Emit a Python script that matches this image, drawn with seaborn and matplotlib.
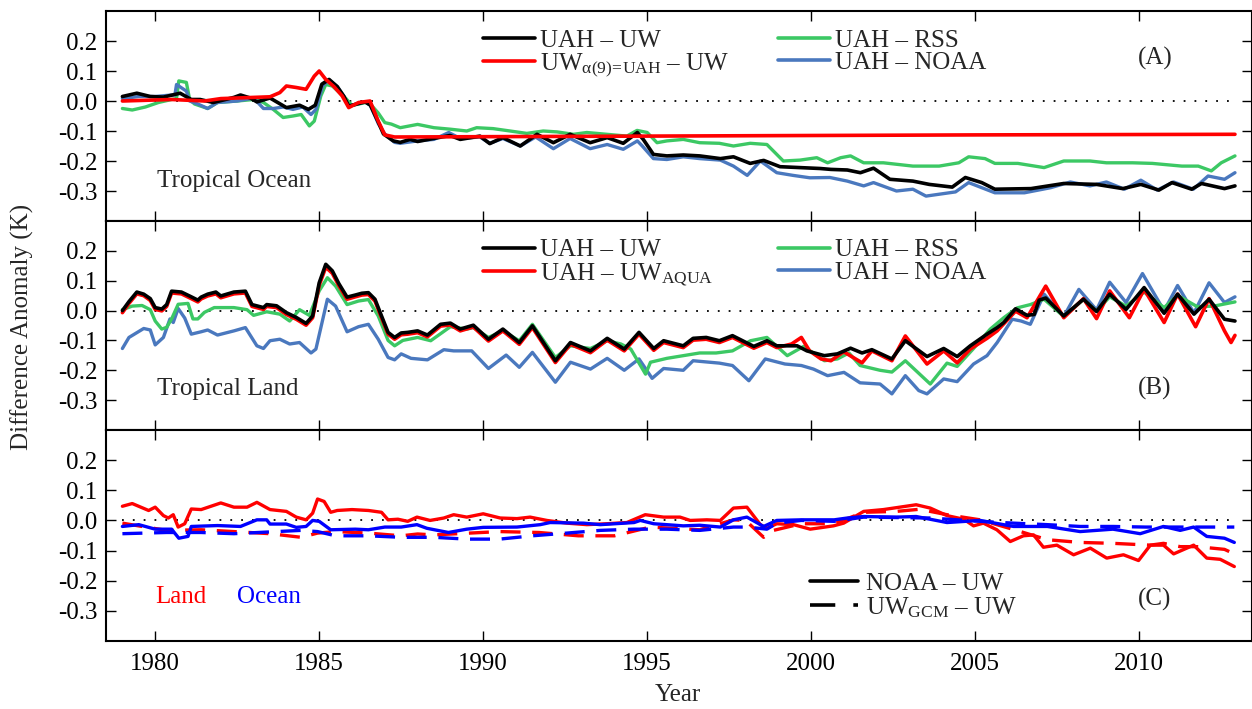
import matplotlib
matplotlib.use("Agg")
import matplotlib.pyplot as plt
from matplotlib.lines import Line2D
from matplotlib.ticker import FormatStrFormatter, FixedLocator
import seaborn as sns

# ---------------- Panel A: Tropical Ocean ----------------
a_uw_t = [1979.0, 1979.44, 1979.85, 1980.25, 1980.76, 1981.1, 1981.37, 1981.77, 1982.4, 1982.6, 1982.9,
          1983.1, 1983.5, 1984.0, 1984.4, 1984.67, 1984.88, 1985.08, 1985.3, 1985.55, 1985.75, 1985.9,
          1986.4, 1986.56, 1986.8, 1986.96, 1987.26, 1987.47, 1987.77, 1988.0, 1988.48, 1988.99, 1989.3,
          1989.9, 1990.2, 1990.6, 1991.13, 1991.64, 1992.14, 1992.65, 1993.26, 1993.78, 1994.27, 1994.7,
          1994.88, 1995.19, 1995.6, 1996.1, 1996.6, 1997.23, 1997.63, 1998.14, 1998.55, 1999.05, 1999.66,
          2000.27, 2000.6, 2001.1, 2001.5, 2001.9, 2002.4, 2003.1, 2003.6, 2004.3, 2004.7, 2005.2, 2005.6,
          2006.7, 2007.7, 2008.7, 2009.5, 2010.05, 2010.6, 2011.0, 2011.6, 2011.9, 2012.6, 2012.92]
a_uw_v = [0.015, 0.026, 0.015, 0.013, 0.026, 0.005, 0.005, -0.005, 0.012, 0.02, 0.01,
          -0.003, 0.01, -0.022, -0.014, -0.028, -0.014, 0.056, 0.072, 0.048, 0.016, -0.017,
          -0.003, -0.014, -0.07, -0.11, -0.133, -0.138, -0.128, -0.135, -0.125, -0.115, -0.128,
          -0.117, -0.142, -0.122, -0.15, -0.111, -0.139, -0.111, -0.139, -0.122, -0.141, -0.105,
          -0.128, -0.178, -0.183, -0.18, -0.183, -0.192, -0.186, -0.208, -0.198, -0.219, -0.222,
          -0.225, -0.228, -0.23, -0.239, -0.224, -0.261, -0.267, -0.278, -0.287, -0.255, -0.272, -0.294,
          -0.292, -0.275, -0.278, -0.292, -0.278, -0.297, -0.272, -0.294, -0.275, -0.292, -0.283]

a_alpha_t = [1979.0, 1980.5, 1981.5, 1982.0, 1983.0, 1983.5, 1983.8, 1984.0, 1984.3, 1984.6, 1984.85,
             1985.0, 1985.2, 1985.45, 1985.7, 1985.9, 1986.2, 1986.55, 1986.8, 1987.0, 1987.3, 1995.0,
             2005.0, 2012.92]
a_alpha_v = [0.0, 0.005, 0.0, 0.008, 0.012, 0.014, 0.028, 0.05, 0.045, 0.039, 0.083,
             0.1, 0.072, 0.048, 0.017, -0.022, -0.005, 0.0, -0.067, -0.113, -0.12, -0.117,
             -0.113, -0.111]

a_rss_t = [1979.0, 1979.3, 1979.7, 1980.1, 1980.5, 1980.65, 1980.72, 1980.95, 1981.05, 1981.2, 1981.6,
           1981.9, 1982.5, 1983.0, 1983.3, 1983.6, 1983.9, 1984.2, 1984.45, 1984.7, 1984.85, 1985.05,
           1985.2, 1985.4, 1985.8, 1986.0, 1986.5, 1986.8, 1987.0, 1987.2, 1987.47, 1988.0, 1988.5,
           1989.0, 1989.5, 1989.8, 1990.3, 1990.82, 1991.33, 1991.83, 1992.25, 1992.75, 1993.16, 1993.77,
           1994.38, 1994.69, 1995.0, 1995.3, 1995.6, 1996.1, 1996.6, 1997.2, 1997.63, 1998.14, 1998.65,
           1999.15, 1999.66, 2000.17, 2000.5, 2000.9, 2001.2, 2001.6, 2002.2, 2003.1, 2003.9, 2004.5,
           2004.8, 2005.3, 2005.6, 2006.3, 2007.1, 2007.7, 2008.5, 2009.0, 2009.8, 2010.4, 2011.3,
           2011.8, 2012.2, 2012.5, 2012.92]
a_rss_v = [-0.025, -0.03, -0.02, -0.005, 0.005, 0.008, 0.067, 0.062, 0.005, -0.01, -0.025,
           -0.005, 0.0, 0.005, -0.005, -0.028, -0.055, -0.05, -0.045, -0.083, -0.067, 0.017,
           0.055, 0.05, 0.01, -0.015, -0.003, -0.04, -0.072, -0.077, -0.089, -0.078, -0.089,
           -0.094, -0.1, -0.089, -0.092, -0.1, -0.108, -0.1, -0.103, -0.111, -0.105, -0.111,
           -0.117, -0.098, -0.105, -0.139, -0.133, -0.128, -0.139, -0.141, -0.15, -0.141, -0.145,
           -0.2, -0.197, -0.189, -0.206, -0.189, -0.183, -0.206, -0.206, -0.217, -0.217, -0.206,
           -0.186, -0.192, -0.208, -0.208, -0.222, -0.2, -0.2, -0.206, -0.206, -0.208, -0.217,
           -0.217, -0.233, -0.206, -0.183]

a_noaa_t = [1979.0, 1979.5, 1980.0, 1980.5, 1980.6, 1980.65, 1980.95, 1981.05, 1981.3, 1981.6, 1981.9,
            1982.5, 1983.0, 1983.3, 1983.6, 1983.9, 1984.2, 1984.5, 1984.75, 1984.9, 1985.1, 1985.3,
            1985.55, 1985.75, 1985.9, 1986.4, 1986.56, 1986.8, 1987.0, 1987.3, 1987.47, 1988.0, 1988.5,
            1988.95, 1989.3, 1989.9, 1990.2, 1990.6, 1991.13, 1991.6, 1992.14, 1992.65, 1993.26, 1993.78,
            1994.27, 1994.7, 1994.85, 1995.19, 1995.6, 1996.1, 1996.6, 1997.23, 1997.63, 1998.05, 1998.45,
            1998.95, 1999.45, 1999.96, 2000.57, 2001.1, 2001.6, 2001.9, 2002.6, 2003.1, 2003.5, 2004.4,
            2004.8, 2005.6, 2006.5, 2007.3, 2007.9, 2008.5, 2009.0, 2009.55, 2010.05, 2010.55, 2011.05,
            2011.65, 2012.1, 2012.6, 2012.92]
a_noaa_v = [0.008, 0.015, 0.015, 0.02, 0.02, 0.055, 0.033, 0.0, -0.01, -0.025, -0.005,
            0.0, 0.01, -0.025, -0.025, -0.02, -0.028, -0.02, -0.045, -0.028, 0.05, 0.07,
            0.048, 0.016, -0.017, -0.003, -0.014, -0.075, -0.11, -0.138, -0.141, -0.133, -0.128,
            -0.105, -0.125, -0.12, -0.141, -0.125, -0.15, -0.12, -0.159, -0.125, -0.159, -0.145,
            -0.161, -0.133, -0.15, -0.192, -0.195, -0.186, -0.192, -0.197, -0.217, -0.248, -0.2,
            -0.239, -0.248, -0.256, -0.255, -0.267, -0.283, -0.272, -0.3, -0.294, -0.317, -0.303,
            -0.272, -0.306, -0.306, -0.289, -0.27, -0.283, -0.27, -0.294, -0.264, -0.297, -0.27,
            -0.294, -0.25, -0.261, -0.239]

# ---------------- Panel B: Tropical Land ----------------
b_uw_t = [1979.0, 1979.2, 1979.44, 1979.65, 1979.85, 1980.0, 1980.2, 1980.35, 1980.5, 1980.8, 1981.1,
          1981.3, 1981.4, 1981.6, 1981.85, 1982.0, 1982.4, 1982.75, 1982.95, 1983.3, 1983.4, 1983.7,
          1984.0, 1984.3, 1984.6, 1984.8, 1985.0, 1985.2, 1985.4, 1985.6, 1985.85, 1986.1, 1986.3,
          1986.5, 1986.7, 1986.9, 1987.1, 1987.3, 1987.5, 1987.7, 1988.0, 1988.3, 1988.7, 1989.0,
          1989.3, 1989.7, 1990.16, 1990.6, 1991.1, 1991.5, 1992.2, 1992.66, 1993.27, 1993.78, 1994.3,
          1994.75, 1995.2, 1995.5, 1996.1, 1996.4, 1996.8, 1997.2, 1997.6, 1998.25, 1998.65, 1998.95,
          1999.57, 1999.87, 2000.4, 2000.8, 2001.2, 2001.55, 2001.85, 2002.46, 2002.87, 2003.53, 2004.04,
          2004.45, 2004.85, 2005.36, 2005.67, 2005.87, 2006.23, 2006.58, 2006.8, 2006.95, 2007.15, 2007.7,
          2008.3, 2008.7, 2009.1, 2009.6, 2010.15, 2010.76, 2011.17, 2011.67, 2012.13, 2012.6, 2012.92]
b_uw_v = [0.0, 0.03, 0.062, 0.055, 0.04, 0.01, 0.005, 0.02, 0.065, 0.062, 0.046,
          0.035, 0.045, 0.055, 0.062, 0.049, 0.062, 0.065, 0.02, 0.01, 0.02, 0.016,
          -0.007, -0.023, -0.043, -0.018, 0.093, 0.155, 0.133, 0.09, 0.045, 0.052, 0.058,
          0.06, 0.038, -0.018, -0.073, -0.09, -0.075, -0.073, -0.068, -0.082, -0.046, -0.042,
          -0.062, -0.049, -0.096, -0.062, -0.107, -0.051, -0.168, -0.107, -0.135, -0.093, -0.129,
          -0.073, -0.127, -0.101, -0.118, -0.093, -0.09, -0.101, -0.084, -0.12, -0.101, -0.118,
          -0.118, -0.135, -0.151, -0.145, -0.126, -0.142, -0.131, -0.162, -0.101, -0.154, -0.127,
          -0.154, -0.118, -0.079, -0.057, -0.04, 0.006, -0.016, -0.013, 0.035, 0.042, -0.018,
          0.038, -0.003, 0.055, 0.004, 0.077, -0.009, 0.055, -0.012, 0.038, -0.029, -0.035]

b_aqua_t = [1979.0, 1979.2, 1979.44, 1979.65, 1979.85, 1980.0, 1980.2, 1980.35, 1980.5, 1980.8, 1981.1,
            1981.3, 1981.4, 1981.6, 1981.85, 1982.0, 1982.4, 1982.75, 1982.95, 1983.3, 1983.4, 1983.7,
            1984.0, 1984.3, 1984.6, 1984.8, 1985.0, 1985.2, 1985.4, 1985.6, 1985.85, 1986.1, 1986.3,
            1986.5, 1986.7, 1986.9, 1987.1, 1987.3, 1987.5, 1987.7, 1988.0, 1988.3, 1988.7, 1989.0,
            1989.3, 1989.7, 1990.16, 1990.6, 1991.1, 1991.5, 1992.2, 1992.66, 1993.27, 1993.78, 1994.3,
            1994.75, 1995.2, 1995.5, 1996.1, 1996.4, 1996.8, 1997.2, 1997.6, 1998.25, 1998.65, 1998.95,
            1999.4, 1999.7, 1999.95, 2000.3, 2000.6, 2000.99, 2001.55, 2001.85, 2002.46, 2002.87, 2003.53,
            2004.04, 2004.45, 2004.85, 2005.36, 2005.67, 2006.23, 2006.58, 2007.15, 2007.7, 2008.3, 2008.7,
            2009.1, 2009.7, 2010.15, 2010.76, 2011.17, 2011.72, 2012.13, 2012.6, 2012.8, 2012.92]
b_aqua_v = [-0.007, 0.024, 0.056, 0.05, 0.034, 0.004, -0.001, 0.014, 0.059, 0.056, 0.04,
            0.029, 0.039, 0.049, 0.056, 0.043, 0.056, 0.059, 0.014, 0.004, 0.014, 0.01,
            -0.013, -0.029, -0.049, -0.024, 0.085, 0.145, 0.125, 0.083, 0.038, 0.046, 0.052,
            0.054, 0.032, -0.024, -0.079, -0.096, -0.081, -0.079, -0.074, -0.088, -0.052, -0.048,
            -0.068, -0.055, -0.102, -0.068, -0.113, -0.057, -0.174, -0.113, -0.141, -0.099, -0.135,
            -0.079, -0.133, -0.107, -0.124, -0.099, -0.096, -0.107, -0.09, -0.126, -0.107, -0.124,
            -0.112, -0.09, -0.135, -0.162, -0.168, -0.138, -0.175, -0.135, -0.168, -0.085, -0.179,
            -0.135, -0.175, -0.129, -0.093, -0.068, -0.002, -0.024, 0.082, -0.024, 0.04, -0.027,
            0.066, -0.024, 0.071, -0.04, 0.055, -0.054, 0.04, -0.068, -0.107, -0.083]

b_rss_t = [1979.0, 1979.3, 1979.6, 1979.85, 1980.0, 1980.2, 1980.35, 1980.5, 1980.7, 1981.0, 1981.15,
           1981.3, 1981.5, 1981.8, 1982.4, 1982.8, 1983.0, 1983.4, 1983.8, 1984.1, 1984.4, 1984.7,
           1985.0, 1985.25, 1985.5, 1985.85, 1986.2, 1986.5, 1986.8, 1987.1, 1987.3, 1987.55, 1988.0,
           1988.4, 1989.0, 1989.5, 1989.7, 1990.16, 1990.6, 1991.1, 1991.5, 1992.2, 1992.66, 1993.27,
           1993.78, 1994.2, 1994.5, 1994.95, 1995.1, 1995.6, 1996.1, 1996.6, 1997.1, 1997.6, 1998.15,
           1998.65, 1999.27, 1999.77, 2000.4, 2000.8, 2001.15, 2001.49, 2002.1, 2002.46, 2002.87, 2003.63,
           2004.14, 2004.45, 2004.95, 2005.46, 2005.87, 2006.28, 2006.68, 2007.1, 2007.7, 2008.3, 2008.7,
           2009.1, 2009.6, 2010.15, 2010.76, 2011.17, 2011.77, 2012.28, 2012.92]
b_rss_v = [0.003, 0.015, 0.017, 0.003, -0.035, -0.062, -0.056, -0.028, 0.021, 0.024, -0.028,
           -0.028, -0.006, 0.01, 0.01, 0.003, -0.016, -0.004, -0.012, -0.035, 0.003, -0.016,
           0.066, 0.11, 0.082, 0.02, 0.032, 0.037, -0.018, -0.1, -0.118, -0.1, -0.09,
           -0.101, -0.054, -0.062, -0.057, -0.09, -0.068, -0.101, -0.046, -0.157, -0.118, -0.127,
           -0.101, -0.112, -0.129, -0.213, -0.173, -0.16, -0.151, -0.142, -0.142, -0.135, -0.101,
           -0.09, -0.151, -0.12, -0.168, -0.162, -0.142, -0.184, -0.2, -0.206, -0.168, -0.246,
           -0.176, -0.187, -0.127, -0.062, -0.024, 0.009, 0.02, 0.038, -0.02, 0.037, -0.002,
           0.046, 0.015, 0.062, 0.01, 0.051, 0.013, 0.015, 0.029]

b_noaa_t = [1979.0, 1979.2, 1979.65, 1979.85, 1980.0, 1980.25, 1980.45, 1980.55, 1980.7, 1980.9, 1981.1,
            1981.4, 1981.6, 1981.9, 1982.4, 1982.75, 1983.1, 1983.3, 1983.5, 1983.8, 1984.1, 1984.4,
            1984.75, 1984.9, 1985.25, 1985.5, 1985.85, 1986.2, 1986.5, 1986.8, 1987.1, 1987.3, 1987.5,
            1987.8, 1988.3, 1988.8, 1989.1, 1989.65, 1990.16, 1990.7, 1991.1, 1991.5, 1992.2, 1992.66,
            1993.27, 1993.78, 1994.3, 1994.75, 1995.15, 1995.5, 1996.1, 1996.4, 1997.2, 1997.6, 1998.1,
            1998.6, 1999.2, 1999.7, 2000.07, 2000.5, 2001.0, 2001.49, 2002.1, 2002.46, 2002.87, 2003.28,
            2003.53, 2004.04, 2004.45, 2004.95, 2005.36, 2005.67, 2006.13, 2006.4, 2006.68, 2007.1, 2007.7,
            2008.16, 2008.7, 2009.1, 2009.6, 2010.1, 2010.76, 2011.17, 2011.67, 2012.13, 2012.6, 2012.92]
b_noaa_v = [-0.127, -0.09, -0.06, -0.065, -0.115, -0.09, -0.028, -0.04, 0.007, -0.025, -0.079,
            -0.071, -0.065, -0.082, -0.068, -0.057, -0.118, -0.127, -0.101, -0.096, -0.112, -0.107,
            -0.142, -0.129, 0.038, 0.015, -0.071, -0.054, -0.046, -0.096, -0.157, -0.165, -0.145,
            -0.16, -0.165, -0.131, -0.135, -0.135, -0.194, -0.149, -0.19, -0.14, -0.24, -0.173,
            -0.196, -0.16, -0.2, -0.162, -0.227, -0.194, -0.2, -0.168, -0.176, -0.184, -0.235,
            -0.162, -0.179, -0.184, -0.196, -0.218, -0.207, -0.242, -0.246, -0.279, -0.218, -0.268,
            -0.279, -0.229, -0.238, -0.179, -0.151, -0.107, -0.029, -0.035, -0.046, 0.055, -0.02,
            0.071, 0.002, 0.095, 0.027, 0.124, -0.001, 0.084, -0.008, 0.093, 0.027, 0.046]

# ---------------- Panel C: NOAA - UW and UW_GCM - UW ----------------
c_land_noaa_t = [1979.0, 1979.3, 1979.8, 1980.0, 1980.25, 1980.4, 1980.55, 1980.7, 1980.9, 1981.1, 1981.4,
                 1982.0, 1982.4, 1982.8, 1983.1, 1983.5, 1984.0, 1984.3, 1984.6, 1984.8, 1984.95, 1985.15,
                 1985.35, 1985.55, 1986.0, 1986.5, 1986.9, 1987.1, 1987.4, 1987.7, 1987.98, 1988.38, 1988.8,
                 1989.1, 1989.5, 1990.0, 1990.52, 1991.03, 1991.43, 1991.94, 1992.55, 1993.16, 1993.77, 1994.38,
                 1994.94, 1995.5, 1996.0, 1996.31, 1996.82, 1997.23, 1997.63, 1998.04, 1998.45, 1998.65, 1998.95,
                 1999.46, 1999.97, 2000.68, 2000.99, 2001.6, 2002.2, 2003.2, 2003.63, 2004.14, 2004.65, 2004.95,
                 2005.25, 2005.66, 2006.07, 2006.47, 2006.78, 2007.08, 2007.49, 2008.0, 2008.51, 2009.01, 2009.52,
                 2009.98, 2010.34, 2010.74, 2011.05, 2011.66, 2012.06, 2012.47, 2012.9]
c_land_noaa_v = [0.047, 0.056, 0.033, 0.044, 0.016, 0.008, 0.019, -0.022, -0.011, 0.038, 0.036,
                 0.058, 0.044, 0.044, 0.06, 0.036, 0.03, 0.011, 0.002, 0.024, 0.071, 0.063,
                 0.027, 0.033, 0.036, 0.033, 0.027, 0.002, 0.004, -0.003, 0.011, 0.0, 0.008,
                 0.019, 0.011, 0.022, 0.008, 0.006, 0.011, 0.0, -0.009, -0.014, -0.011, -0.007,
                 0.019, 0.011, 0.011, 0.0, 0.002, 0.0, 0.041, 0.044, -0.014, -0.026, -0.011,
                 -0.014, -0.029, -0.018, -0.009, 0.03, 0.036, 0.052, 0.041, 0.016, 0.004, -0.018,
                 -0.009, -0.031, -0.07, -0.051, -0.048, -0.089, -0.082, -0.114, -0.092, -0.125, -0.114,
                 -0.133, -0.082, -0.082, -0.111, -0.082, -0.125, -0.129, -0.153]

c_land_gcm_t = [1979.0, 1979.6, 1980.35, 1981.4, 1982.4, 1983.5, 1984.45, 1984.95, 1985.5, 1986.5, 1987.5,
                1988.0, 1988.5, 1990.5, 1991.7, 1992.9, 1994.0, 1995.1, 1996.6, 1997.63, 1998.0, 1998.55,
                1998.85, 1999.7, 2000.7, 2001.6, 2002.6, 2003.3, 2004.14, 2005.15, 2006.2, 2007.2, 2008.2,
                2009.2, 2010.34, 2010.74, 2011.25, 2011.77, 2012.6, 2012.9]
c_land_gcm_v = [-0.009, -0.02, -0.033, -0.031, -0.037, -0.044, -0.056, -0.042, -0.037, -0.042, -0.051,
                -0.045, -0.048, -0.037, -0.04, -0.051, -0.051, -0.022, -0.031, 0.002, 0.0, -0.056,
                -0.033, -0.011, -0.011, 0.027, 0.03, 0.037, 0.019, 0.002, -0.031, -0.064, -0.073,
                -0.076, -0.082, -0.076, -0.087, -0.087, -0.096, -0.111]

c_ocean_noaa_t = [1979.0, 1979.5, 1980.0, 1980.5, 1980.72, 1981.0, 1981.1, 1981.9, 1982.6, 1983.1, 1983.4,
                  1983.5, 1984.0, 1984.3, 1984.6, 1984.8, 1985.0, 1985.35, 1986.1, 1986.5, 1987.0, 1987.5,
                  1987.98, 1988.28, 1988.94, 1989.5, 1990.0, 1991.03, 1991.74, 1992.04, 1993.06, 1993.57, 1994.6,
                  1994.79, 1995.2, 1996.1, 1996.6, 1997.23, 1997.63, 1998.04, 1998.55, 1998.95, 1999.7, 2000.7,
                  2001.1, 2001.6, 2002.6, 2003.2, 2004.14, 2005.15, 2006.17, 2007.2, 2008.2, 2009.2, 2010.03,
                  2010.74, 2011.25, 2011.66, 2012.06, 2012.6, 2012.9]
c_ocean_noaa_v = [-0.02, -0.014, -0.029, -0.029, -0.059, -0.053, -0.02, -0.017, -0.02, 0.002, 0.002,
                  -0.012, -0.012, -0.023, -0.02, 0.0, -0.003, -0.031, -0.029, -0.031, -0.022, -0.022,
                  -0.014, -0.026, -0.04, -0.029, -0.023, -0.022, -0.014, -0.007, -0.009, -0.014, -0.007,
                  0.0, -0.011, -0.018, -0.016, -0.022, 0.002, 0.011, -0.02, 0.0, 0.002, 0.002,
                  0.008, 0.013, 0.011, 0.013, -0.007, 0.0, -0.02, -0.02, -0.037, -0.029, -0.044,
                  -0.02, -0.033, -0.022, -0.053, -0.059, -0.073]

c_ocean_gcm_t = [1979.0, 1980.35, 1981.4, 1982.4, 1984.45, 1984.95, 1985.5, 1986.5, 1987.5, 1988.5, 1989.5,
                 1990.5, 1991.5, 1992.55, 1993.57, 1994.6, 1995.6, 1996.6, 1997.63, 1998.04, 1998.65, 1998.95,
                 1999.7, 2000.7, 2001.6, 2003.63, 2005.15, 2006.17, 2007.2, 2008.2, 2009.2, 2010.2, 2011.25,
                 2012.06, 2012.9]
c_ocean_gcm_v = [-0.044, -0.04, -0.04, -0.044, -0.033, -0.037, -0.051, -0.051, -0.056, -0.056, -0.062,
                 -0.062, -0.051, -0.042, -0.033, -0.029, -0.029, -0.033, -0.022, -0.022, -0.029, -0.009,
                 0.0, -0.003, 0.011, 0.008, -0.003, -0.009, -0.014, -0.02, -0.02, -0.022, -0.022,
                 -0.022, -0.022]

y_ticks = [-0.3, -0.2, -0.1, 0.0, 0.1, 0.2]
x_ticks = [1980, 1985, 1990, 1995, 2000, 2005, 2010]

# ---------------- styling ----------------
sns.set_style("ticks")
plt.rcParams['font.family'] = ['Liberation Serif', 'DejaVu Serif']
plt.rcParams['mathtext.fontset'] = 'custom'
plt.rcParams['mathtext.rm'] = 'Liberation Serif'
plt.rcParams['mathtext.it'] = 'Liberation Serif:italic'
plt.rcParams['mathtext.default'] = 'regular'

FS = 18
BLACK = '#000000'
RED = '#ff0000'
GREEN = '#3cc864'
STEEL = '#4a78be'
BLUE = '#0000ff'
LW_MAIN = 2.6
LW_SEC = 2.4
LW_C = 2.4

fig = plt.figure(figsize=(12.52, 7.09), dpi=100)
L = 106 / 1252
W = (1252 - 106) / 1252
axA = fig.add_axes([L, (709 - 221) / 709, W, 210 / 709])
axB = fig.add_axes([L, (709 - 430) / 709, W, 209 / 709])
axC = fig.add_axes([L, (709 - 641) / 709, W, 211 / 709])


def line(ax, t, v, color, lw, ls='-'):
    sns.lineplot(x=t, y=v, ax=ax, color=color, lw=lw, linestyle=ls,
                 legend=False, estimator=None, sort=False)


# Panel A
line(axA, a_rss_t, a_rss_v, GREEN, LW_SEC)
line(axA, a_noaa_t, a_noaa_v, STEEL, LW_SEC)
line(axA, a_uw_t, a_uw_v, BLACK, LW_MAIN)
line(axA, a_alpha_t, a_alpha_v, RED, LW_MAIN)

# Panel B
line(axB, b_noaa_t, b_noaa_v, STEEL, LW_SEC)
line(axB, b_rss_t, b_rss_v, GREEN, LW_SEC)
line(axB, b_aqua_t, b_aqua_v, RED, LW_MAIN)
line(axB, b_uw_t, b_uw_v, BLACK, LW_MAIN)

# Panel C
DASH = (0, (6, 3.5))
line(axC, c_land_gcm_t, c_land_gcm_v, RED, LW_C, DASH)
line(axC, c_land_noaa_t, c_land_noaa_v, RED, LW_C)
line(axC, c_ocean_gcm_t, c_ocean_gcm_v, BLUE, LW_C, DASH)
line(axC, c_ocean_noaa_t, c_ocean_noaa_v, BLUE, LW_C)

x0 = a_uw_t[0]
x1 = a_uw_t[-1]
for ax in (axA, axB, axC):
    ax.hlines(0, x0, x1, colors='k', linestyles=(0, (1, 5)), lw=1.3, zorder=0)
    ax.set_xlim(1978.5, 1978.5 + (1252 - 106) / 32.8)
    ax.set_ylim(-0.4, 0.3)
    ax.yaxis.set_major_locator(FixedLocator(y_ticks))
    ax.xaxis.set_major_locator(FixedLocator(x_ticks))
    ax.yaxis.set_major_formatter(FormatStrFormatter('%.1f'))
    ax.tick_params(direction='in', length=7.5, width=1.0, top=True, right=True,
                   labelsize=FS, pad=6, colors='k')
    ax.tick_params(axis='x', pad=9)
    ax.set_xlabel('')
    ax.set_ylabel('')
    for s in ax.spines.values():
        s.set_linewidth(1.5)
        s.set_color('k')
for ax in (axA, axB):
    ax.tick_params(labelbottom=False)

# Legends panels A and B
hA = [Line2D([], [], color=BLACK, lw=LW_MAIN), Line2D([], [], color=RED, lw=LW_MAIN),
      Line2D([], [], color=GREEN, lw=LW_MAIN), Line2D([], [], color=STEEL, lw=LW_MAIN)]
labA = ['UAH – UW', r'UW$_{α(9)\!=\!UAH}$ – UW', 'UAH – RSS', 'UAH – NOAA']
hB = [Line2D([], [], color=BLACK, lw=LW_MAIN), Line2D([], [], color=RED, lw=LW_MAIN),
      Line2D([], [], color=GREEN, lw=LW_MAIN), Line2D([], [], color=STEEL, lw=LW_MAIN)]
labB = ['UAH – UW', r'UAH – UW$_{AQUA}$', 'UAH – RSS', 'UAH – NOAA']

leg_kw = dict(frameon=False, fontsize=FS, handlelength=2.08, handletextpad=0.2,
              borderpad=0, borderaxespad=0, labelspacing=0.0, loc='upper left')
for ax, h, lab in ((axA, hA, labA), (axB, hB, labB)):
    yfrac = 0.914
    l1 = ax.legend(h[:2], lab[:2], bbox_to_anchor=((483 - 106) / 1146, yfrac), **leg_kw)
    ax.add_artist(l1)
    ax.legend(h[2:], lab[2:], bbox_to_anchor=((778 - 106) / 1146, yfrac), **leg_kw)

hC = [Line2D([], [], color='k', lw=LW_MAIN), Line2D([], [], color='k', lw=LW_MAIN, linestyle=(0, (7, 5)))]
axC.legend(hC, ['NOAA – UW', r'UW$_{GCM}$ – UW'], frameon=False, fontsize=FS,
           handlelength=1.92, handletextpad=0.32, borderpad=0, borderaxespad=0,
           labelspacing=0.0, loc='upper left', bbox_to_anchor=((810 - 106) / 1146, 0.3237))

# panel annotations
axA.text(0.0445, 0.162, 'Tropical Ocean', transform=axA.transAxes, fontsize=FS, va='baseline')
axB.text(0.0445, 0.167, 'Tropical Land', transform=axB.transAxes, fontsize=FS, va='baseline')
axA.text((1138 - 106) / 1146, 0.776, '(A)', transform=axA.transAxes, fontsize=FS, va='center')
axB.text((1138 - 106) / 1146, 0.20, '(B)', transform=axB.transAxes, fontsize=FS, va='center')
axC.text((1138 - 106) / 1146, 0.199, '(C)', transform=axC.transAxes, fontsize=FS, va='center')
axC.text(0.0428, 0.2085, 'Land', transform=axC.transAxes, fontsize=FS, va='center', color=RED)
axC.text((237 - 106) / 1146, 0.2085, 'Ocean', transform=axC.transAxes, fontsize=FS, va='center', color=BLUE)

fig.text(22 / 1252, (709 - 327) / 709, 'Difference Anomaly (K)', rotation=90,
         ha='center', va='center', fontsize=FS)
fig.text(678 / 1252, (709 - 695) / 709, 'Year', ha='center', va='center', fontsize=FS)

fig.savefig('out.png', dpi=100)
